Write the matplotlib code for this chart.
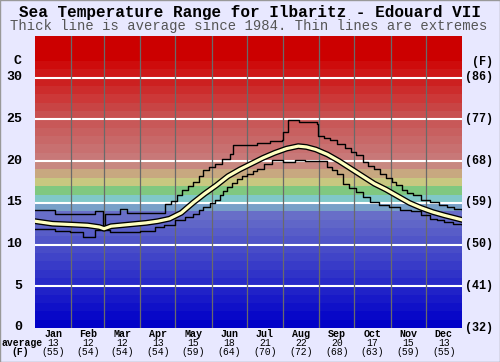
import matplotlib.pyplot as plt
import matplotlib.patheffects as pe

# month info
months = ['Jan', 'Feb', 'Mar', 'Apr', 'May', 'Jun',
          'Jul', 'Aug', 'Sep', 'Oct', 'Nov', 'Dec']
month_start = [0, 31, 59, 90, 120, 151, 181, 212, 243, 273, 304, 334, 365]
avg_c = [13, 12, 12, 13, 15, 18, 21, 22, 20, 17, 15, 13]
avg_f = [55, 54, 54, 54, 59, 64, 70, 72, 68, 63, 59, 55]

# average line (day of year, deg C)
avg_day = [0, 15, 31, 45, 55, 59, 65, 80, 95, 105, 115, 125, 135, 145, 155,
           165, 175, 185, 195, 205, 215, 225, 232, 240, 250, 260, 270, 280,
           290, 300, 310, 320, 330, 340, 350, 364]
avg_temp = [12.8, 12.5, 12.4, 12.3, 12.1, 11.9, 12.2, 12.4, 12.6, 12.8, 13.1,
            13.8, 15.0, 16.1, 17.1, 18.2, 19.0, 19.7, 20.4, 21.0, 21.5, 21.8,
            21.7, 21.4, 20.8, 20.0, 19.1, 18.2, 17.3, 16.6, 15.8, 15.0, 14.4,
            13.9, 13.5, 13.0]

# upper extreme
hi_day = [0, 13, 17, 51, 58, 60, 73, 79, 109, 111, 116, 121, 126, 131, 135,
          140, 144, 149, 154, 160, 167, 169, 190, 201, 211, 212, 216, 226,
          241, 242, 247, 252, 258, 265, 270, 274, 280, 285, 290, 295, 300,
          305, 309, 314, 318, 323, 330, 338, 345, 352, 358, 365]
hi_temp = [14.2, 14.2, 13.7, 14.0, 12.0, 13.7, 14.3, 13.8, 13.8, 14.9, 15.2,
           16.0, 16.5, 17.0, 17.5, 18.2, 18.9, 19.3, 19.7, 20.3, 20.9, 21.9,
           22.2, 22.4, 22.5, 23.5, 24.9, 24.7, 24.5, 23.0, 22.8, 22.5, 22.0,
           21.6, 21.1, 20.7, 19.9, 19.4, 19.0, 18.5, 18.0, 17.5, 17.1, 16.6,
           16.2, 15.9, 15.4, 15.1, 14.8, 14.5, 14.3, 14.1]

# lower extreme
lo_day = [0, 17, 30, 41, 51, 64, 90, 103, 110, 120, 128, 135, 140, 144, 150,
          154, 158, 161, 164, 168, 173, 177, 181, 186, 190, 196, 203, 212,
          222, 231, 241, 250, 254, 258, 263, 268, 274, 280, 286, 294, 303,
          312, 321, 330, 338, 344, 350, 357, 365]
lo_temp = [11.9, 11.6, 11.5, 10.9, 11.7, 11.5, 11.6, 12.1, 12.4, 12.9, 13.3,
           13.7, 14.1, 14.5, 15.0, 15.4, 15.9, 16.4, 16.9, 17.4, 17.9, 18.2,
           18.5, 18.8, 19.1, 19.6, 20.1, 19.9, 20.1, 20.0, 20.0, 19.3, 18.9,
           18.5, 17.3, 16.8, 16.3, 15.7, 15.1, 14.8, 14.5, 14.2, 14.0, 13.5,
           13.1, 12.9, 12.7, 12.5, 12.3]

# background band colours, one per degree C from 0 to 35
band_colors = [
    '#0000c8', '#0808c8', '#1011c8', '#1819c8', '#2022c8', '#282ac8',
    '#3033c8', '#383bc8', '#4044c8', '#484cc8', '#5055c8', '#585dc8',
    '#6066c8', '#686ec8', '#78a0c8', '#80c8c8', '#80c880', '#c8c880',
    '#c8a880', '#c88880', '#c87878', '#c87070', '#c86868', '#c86060',
    '#c85858', '#c85050', '#c84444', '#cc3838', '#cc2c2c', '#cc2020',
    '#ce1818', '#ce0c0c', '#cc0000', '#cc0000', '#cc0000',
]

bg = '#e8e8ff'
mono = 'Liberation Mono'
W, H = 500, 362

fig = plt.figure(figsize=(W / 100, H / 100), dpi=100, facecolor=bg)
ax = fig.add_axes([35 / W, 1 - 328 / H, 427 / W, 292 / H])

for t, c in enumerate(band_colors):
    ax.axhspan(t, t + 1, color=c, lw=0, zorder=0)

for t in range(5, 35, 5):
    ax.axhline(t, color='white', lw=1.5, zorder=1)
for d in month_start[1:-1]:
    ax.axvline(d, color='#6a6a6a', lw=0.9, zorder=1)

ax.plot(hi_day, hi_temp, color='black', lw=1.0, drawstyle='steps-post', zorder=3)
ax.plot(lo_day, lo_temp, color='black', lw=1.0, drawstyle='steps-post', zorder=3)
ax.plot(avg_day, avg_temp, color='#ffffc0', lw=2.3, zorder=4,
        path_effects=[pe.Stroke(linewidth=4.2, foreground='black'), pe.Normal()])

ax.set_xlim(0, 365)
ax.set_ylim(0, 35)
ax.set_xticks([])
ax.set_yticks([])
for s in ax.spines.values():
    s.set_visible(False)


def px(x, y):
    return x / W, 1 - y / H


# titles
fig.text(*px(250, 12), 'Sea Temperature Range for Ilbaritz - Edouard VII',
         ha='center', va='center', family=mono, weight='bold', fontsize=11.5)
fig.text(*px(249, 26), 'Thick line is average since 1984. Thin lines are extremes',
         ha='center', va='center', family=mono, color='#555555', fontsize=10)

# y labels
fig.text(*px(18, 61), 'C', ha='center', va='center', family=mono,
         weight='bold', fontsize=9.5)
fig.text(*px(482, 62), '(F)', ha='center', va='center', family=mono,
         weight='bold', fontsize=8.5)
for t in range(0, 35, 5):
    y = 327.5 - t * 8.34
    fig.text(*px(22, y), str(t), ha='right', va='center', family=mono,
             weight='bold', fontsize=9.5)
    f = round(t * 9 / 5 + 32)
    fig.text(*px(465, y), '(%d)' % f, ha='left', va='center', family=mono,
             weight='bold', fontsize=8.5)

# month labels
for i, m in enumerate(months):
    mid = (month_start[i] + month_start[i + 1]) / 2
    x = 35 + mid * 427 / 365
    fig.text(*px(x, 334), m, ha='center', va='center', family=mono,
             weight='bold', fontsize=7.2)
    fig.text(*px(x, 343), str(avg_c[i]), ha='center', va='center',
             family=mono, fontsize=7)
    fig.text(*px(x, 352), '(%d)' % avg_f[i], ha='center', va='center',
             family=mono, fontsize=7)
fig.text(*px(22, 343), 'average', ha='center', va='center', family=mono,
         weight='bold', fontsize=7)
fig.text(*px(20, 352), '(F)', ha='center', va='center', family=mono,
         weight='bold', fontsize=7)

fig.patches.append(plt.Rectangle((0, 0), 1, 1, transform=fig.transFigure,
                                 fill=False, edgecolor='#999999', lw=1))

fig.savefig('out.png', dpi=100, facecolor=bg)
